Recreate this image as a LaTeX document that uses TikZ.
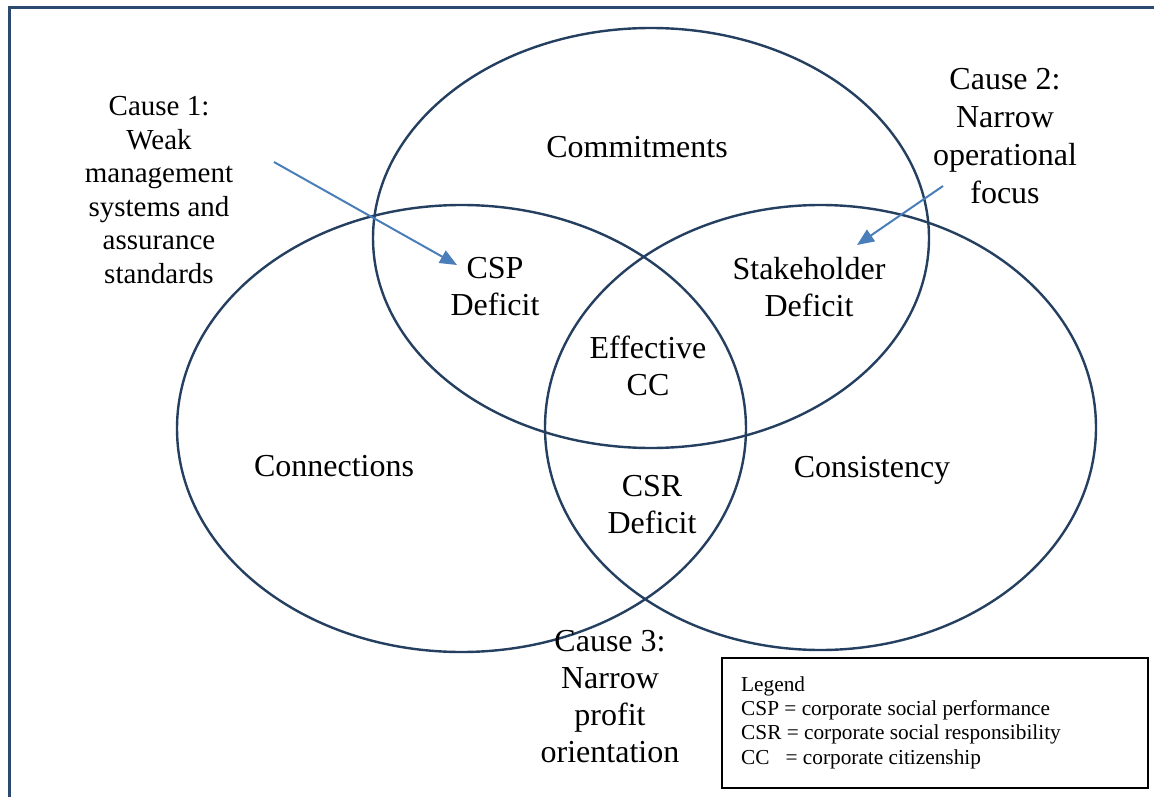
\documentclass[tikz,border=0pt]{standalone}
\usepackage{fontspec}
\setmainfont{Liberation Serif}
\usetikzlibrary{arrows.meta}
\definecolor{ringblue}{HTML}{243F60}
\definecolor{arrowblue}{HTML}{4A7EBB}
\definecolor{frameblue}{HTML}{2C4A70}
\begin{document}
\begin{tikzpicture}[x=1pt,y=-1pt,
  ring/.style={draw=ringblue,line width=2.4pt},
  lbl/.style={inner sep=0pt,align=center,font=\fontsize{32}{37}\selectfont},
  causelbl/.style={inner sep=0pt,align=center,font=\fontsize{29}{33.6}\selectfont},
  pointer/.style={draw=arrowblue,line width=2pt,-{Triangle[length=17pt,width=14pt]}},
  legendframe/.style={draw=black,line width=1.8pt,inner sep=0pt},
  legendtxt/.style={inner sep=0pt,align=left,font=\fontsize{21.3}{24.3}\selectfont},
]
\useasboundingbox (0,0) rectangle (1154,797);
\fill[white] (0,0) rectangle (1154,797);

% page border (top and left edges)
\draw[frameblue,line width=3pt] (9.5,797) -- (9.5,8) -- (1154,8);

% the three sets
\draw[ring] (651,238) ellipse [x radius=278pt, y radius=210pt];
\draw[ring] (461.5,428.5) ellipse [x radius=284.5pt, y radius=223.5pt];
\draw[ring] (820.5,427.5) ellipse [x radius=275.5pt, y radius=222.5pt];

% region labels
\node[lbl] (commit)  at (637,147) {Commitments};
\node[lbl] (connect) at (334,466) {Connections};
\node[lbl] (consist) at (872,470) {Consistency};
\node[lbl] (csp)     at (495,287) {CSP\\Deficit};
\node[lbl] (stake)   at (809,287) {Stakeholder\\Deficit};
\node[lbl] (eff)     at (648,366) {Effective\\CC};
\node[lbl] (csr)     at (652,505) {CSR\\Deficit};

% causes
\node[causelbl] (cause1) at (159,190) {Cause 1:\\Weak\\management\\systems and\\assurance\\standards};
\node[inner sep=0pt,align=center,font=\fontsize{32}{38}\selectfont] (cause2) at (1005,136) {Cause 2:\\Narrow\\operational\\focus};
\node[lbl] (cause3) at (610,697) {Cause 3:\\Narrow\\profit\\orientation};

% pointers from causes to deficits
\coordinate (c1tail) at (274,162);
\coordinate (c1tip)  at (457,265);
\coordinate (c2tail) at (943,186);
\coordinate (c2tip)  at (857,245);
\draw[pointer] (c1tail) -- (c1tip);
\draw[pointer] (c2tail) -- (c2tip);

% legend
\node[legendframe,minimum width=426pt,minimum height=130pt,anchor=north west] (legendbox) at (721,657) {};
\node[legendtxt,anchor=west] (legendtext) at (741,722.5)
  {Legend\\CSP = corporate social performance\\CSR = corporate social responsibility\\CC\ \ \ = corporate citizenship};
\end{tikzpicture}
\end{document}
